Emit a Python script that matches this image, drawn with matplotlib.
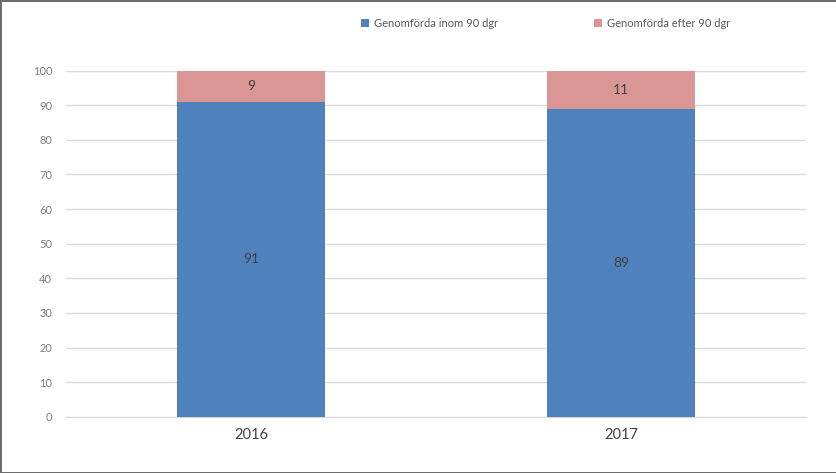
import numpy as np
import matplotlib.pyplot as plt

plt.rcParams['font.family'] = ['Lato', 'DejaVu Sans']

# data
years = ['2016', '2017']
inom_90 = [91, 89]
efter_90 = [9, 11]
yticks = [0, 10, 20, 30, 40, 50, 60, 70, 80, 90, 100]

blue = '#4F81BD'
pink = '#D99694'

fig = plt.figure(figsize=(8.37, 4.73), dpi=100, linewidth=2, edgecolor='#6d6d6d')
ax = fig.add_axes([0.079, 0.119, 0.884, 0.7316])

x = np.arange(len(years))
b1 = ax.bar(x, inom_90, width=0.4, color=blue, label='Genomförda inom 90 dgr', zorder=3)
b2 = ax.bar(x, efter_90, width=0.4, bottom=inom_90, color=pink, label='Genomförda efter 90 dgr', zorder=3)

# value labels in the middle of each segment
for i in range(len(years)):
    ax.text(x[i], inom_90[i] / 2, str(inom_90[i]), ha='center', va='center',
            fontsize=10, color='#404040', zorder=4)
    ax.text(x[i], inom_90[i] + efter_90[i] / 2, str(efter_90[i]), ha='center', va='center',
            fontsize=10, color='#404040', zorder=4)

ax.set_xlim(-0.5, 1.5)
ax.set_ylim(0, 100)
ax.set_yticks(yticks)
ax.set_xticks(x)
ax.set_xticklabels(years, fontsize=10.5, color='#404040')
ax.tick_params(axis='y', labelsize=8, colors='#7f7f7f', length=0, pad=10)
ax.tick_params(axis='x', length=0, pad=8)
ax.yaxis.grid(True, color='#d9d9d9', linewidth=1, zorder=0)
for s in ['top', 'right', 'left']:
    ax.spines[s].set_visible(False)
ax.spines['bottom'].set_color('#d9d9d9')

fig.legend(handles=[b1, b2], loc='center', bbox_to_anchor=(0.652, 0.951), ncol=2,
           frameon=False, fontsize=8, handlelength=0.7, handleheight=0.7,
           handletextpad=0.4, columnspacing=8.7, labelcolor='#595959')

plt.savefig('out.png', dpi=100)
